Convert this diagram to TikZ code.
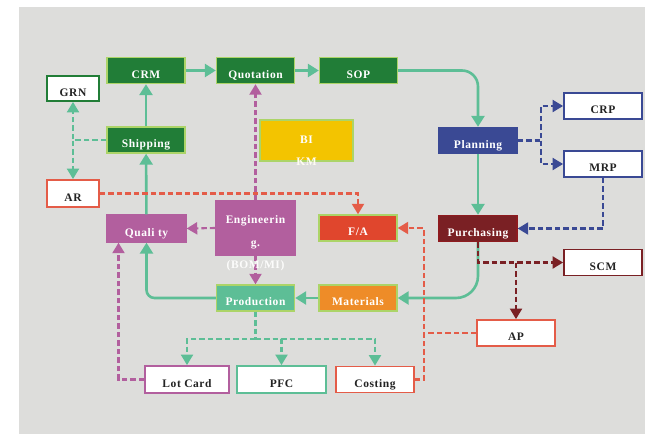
\documentclass[tikz,border=0pt]{standalone}
\usepackage{fontspec}
\setmainfont{Liberation Serif}[LetterSpace=5]
\usetikzlibrary{arrows.meta,calc}
\definecolor{bggray}{RGB}{221,221,219}
\definecolor{dkgreen}{RGB}{33,125,55}
\definecolor{lgreen}{RGB}{172,212,104}
\definecolor{tealc}{RGB}{93,190,150}
\definecolor{bluec}{RGB}{58,73,148}
\definecolor{purplec}{RGB}{178,95,158}
\definecolor{redc}{RGB}{224,70,45}
\definecolor{redline}{RGB}{228,92,72}
\definecolor{dkred}{RGB}{122,32,36}
\definecolor{orangec}{RGB}{238,140,40}
\definecolor{yellowc}{RGB}{243,196,0}
\definecolor{txtc}{RGB}{35,35,35}
\tikzset{
  box/.style={minimum width=78pt,minimum height=26pt,inner sep=1pt,
    text height=15pt,text depth=0pt,font=\fontsize{11.5}{13}\selectfont\bfseries,
    text=white,line width=1.4pt},
  gbox/.style={box,fill=dkgreen,draw=lgreen},
  wbox/.style={box,fill=white,text=txtc,line width=1.8pt},
  txt/.style={font=\fontsize{11.5}{13}\selectfont\bfseries,text=white,inner sep=0pt,anchor=base},
  solidarr/.style={draw=tealc,line width=2.6pt,-{Triangle[length=11pt,width=13pt]},fill=none},
  dsh/.style={line width=2.1pt,dash pattern=on 5.5pt off 3pt},
  darr/.style={dsh,-{Triangle[length=10.5pt,width=12pt]}},
}
\begin{document}
\begin{tikzpicture}[x=1pt,y=-1pt]
\useasboundingbox (0,0) rectangle (645,434);
\fill[bggray] (19,7) rectangle (645,434);
% nodes
\node[gbox] (crm) at (146,70.5) {CRM};
\node[gbox] (quot) at (255.5,70.5) {Quotation};
\node[gbox] (sop) at (358.5,70.5) {SOP};
\node[wbox,draw=dkgreen,minimum width=52pt,minimum height=25pt] (grn) at (73,88.5) {GRN};
\node[gbox] (ship) at (146,140) {Shipping};
\node[box,fill=yellowc,draw=lgreen,minimum width=93pt,minimum height=41pt] (bikm) at (306.5,140.5) {};
\node[txt] (bi) at (306.5,143) {BI};
\node[txt,text=white!95!yellowc] (km) at (306.5,165) {KM};
\node[wbox,draw=redline,minimum width=52pt,minimum height=27pt] (ar) at (73,193.5) {AR};
\node[box,fill=bluec,draw=bluec] (plan) at (478,140.5) {Planning};
\node[wbox,draw=bluec] (crp) at (603,106) {CRP};
\node[wbox,draw=bluec] (mrp) at (603,164) {MRP};
\node[box,fill=purplec,draw=purplec,minimum width=79pt,minimum height=27pt] (qual) at (146.5,228.5) {Quali ty};
\node[box,fill=purplec,draw=purplec,minimum width=79pt,minimum height=54pt] (eng) at (255.5,228) {};
\node[box,fill=redc,draw=lgreen] (fa) at (358,228) {F/A};
\node[box,fill=dkred,draw=dkred!85!red] (purch) at (478,228.5) {Purchasing};
\node[wbox,draw=dkred] (scm) at (603,262.5) {SCM};
\node[box,fill=tealc,draw=lgreen] (prod) at (255.5,298) {Production};
\node[box,fill=orangec,draw=lgreen] (mat) at (358,298) {Materials};
\node[wbox,draw=redline] (ap) at (516,333) {AP};
\node[wbox,draw=purplec,minimum width=84pt,minimum height=27pt] (lot) at (187,379.5) {Lot Card};
\node[wbox,draw=tealc,minimum width=89pt,minimum height=27pt] (pfc) at (281.5,379.5) {PFC};
\node[wbox,draw=redline] (cost) at (375,379.5) {Costing};
% solid connectors
\draw[solidarr] (crm) -- (quot);
\draw[solidarr] (quot) -- (sop);
\draw[solidarr,rounded corners=16pt] (sop.east) -| (plan.north);
\draw[solidarr] (plan) -- (purch);
\draw[solidarr,rounded corners=22pt] (purch.south) |- (mat.east);
\draw[solidarr] (mat) -- (prod);
\draw[solidarr,rounded corners=8pt] (prod.west) -| (qual.south);
\draw[solidarr] (qual) -- (ship);
\draw[solidarr] (ship) -- (crm);
% dashed connectors
\draw[darr,tealc] (ship.west) -| (grn.south);
\draw[darr,tealc] (ship.west) -| (ar.north);
\coordinate (pj) at ($(plan.east)+(23,0)$);
\draw[darr,bluec] (plan.east) -- (pj) |- (crp.west);
\draw[darr,bluec] (pj) |- (mrp.west);
\draw[darr,bluec] (mrp.south) |- (purch.east);
\draw[darr,dkred] (purch.south) |- (scm.west);
\coordinate (pa) at (ap.north |- scm.west);
\draw[darr,dkred] (pa) -- (ap.north);
\draw[darr,redline] (ar.east) -| (fa.north);
\coordinate (rj) at ($(cost.east)+(9,0)$);
\draw[darr,redline] (cost.east) -- (rj) |- (fa.east);
\draw[dsh,redline] (ap.west) -- (ap.west -| rj);
\draw[darr,purplec] (eng.north) -- (quot.south);
\draw[darr,purplec] (eng.west) -- (qual.east);
\draw[darr,purplec] (eng.south) -- (prod.north);
\coordinate (pj2) at ($(prod.south)+(0,27)$);
\draw[dsh,tealc] (prod.south) -- (pj2);
\draw[darr,tealc] (pj2) -| (lot.north);
\draw[darr,tealc] (pj2) -| (pfc.north);
\draw[darr,tealc] (pj2) -| (cost.north);
\draw[darr,purplec] (lot.west) -| ([xshift=-28pt]qual.south);
% engineering text
\node[txt] (eng1) at (255.5,223) {Engineerin};
\node[txt] (eng2) at (255.5,246) {g.};
\node[txt,text=white!90!bggray] (eng3) at (255.5,268.5) {(BOM/MI)};
\end{tikzpicture}
\end{document}
